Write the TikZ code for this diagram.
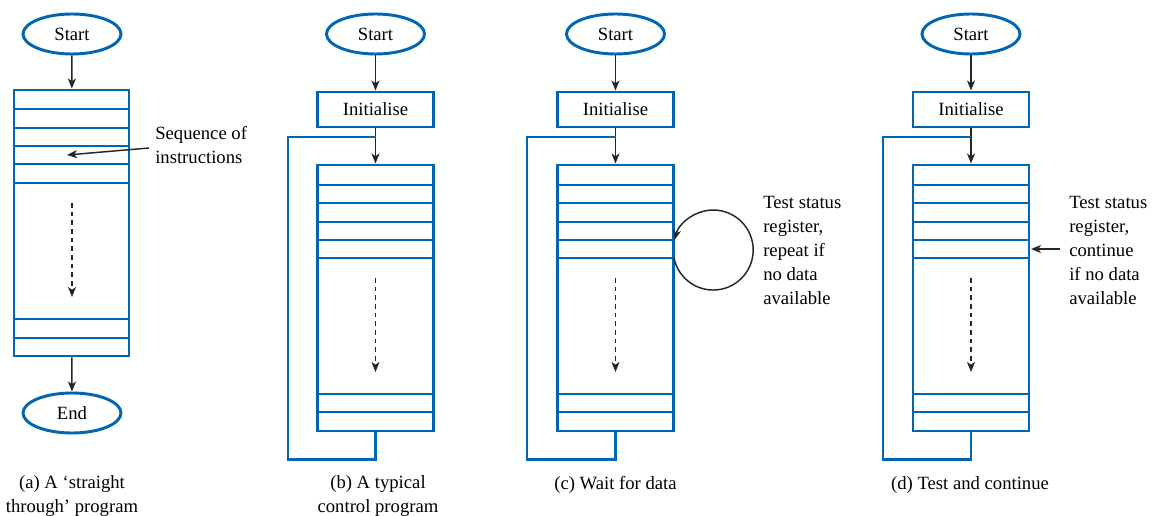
\documentclass[tikz,border=0pt]{standalone}
\usepackage{fontspec}
\setmainfont{Liberation Serif}
\usetikzlibrary{arrows.meta,shapes.geometric}
\definecolor{flowblue}{RGB}{0,102,179}
\begin{document}
\begin{tikzpicture}[x=0.75pt,y=-0.75pt,
  every node/.style={font=\fontsize{14}{18}\selectfont, inner sep=0pt},
  term/.style={ellipse, draw=flowblue, line width=2.2pt, minimum width=73.5pt, minimum height=30pt},
  initbox/.style={rectangle, draw=flowblue, line width=2.2pt, minimum width=87pt, minimum height=26.25pt},
  progbox/.style={rectangle, draw=flowblue, line width=2.2pt, minimum width=87pt, minimum height=199.5pt},
  rowline/.style={flowblue, line width=2.2pt},
  loopline/.style={flowblue, line width=2.2pt},
  arr/.style={-{Stealth[length=7.5pt,width=6pt,inset=2pt]}, line width=1.1pt, black!85},
  dasharr/.style={arr, dash pattern=on 3.5pt off 3pt},
  note/.style={align=left, anchor=west},
  caption/.style={align=center, font=\fontsize{14}{17.5}\selectfont}
]
\useasboundingbox (0,0) rectangle (1157,516);

% ---------- (a) ----------
\node[term] (astart) at (72,34) {Start};
\node[progbox, minimum width=86.25pt] (abox) at (71.5,223) {};
\node[term] (aend) at (72,413) {End};
\foreach \y in {109,128,146,164,183,319,338}
  \draw[rowline] (abox.west |- 0,\y) -- (abox.east |- 0,\y);
\draw[arr] (astart) -- (abox);
\draw[arr] (abox) -- (aend);
\coordinate (ad1) at (72,203);
\coordinate (ad2) at (72,297);
\draw[dasharr] (ad1) -- (ad2);
\node[note] (seq) at (155,145) {Sequence of\\instructions};
\coordinate (aptr) at (67,155);
\draw[arr] ([shift={(-6,3)}]seq.west) -- (aptr);
\node[caption] (acap) at (72,496) {(a) A ‘straight\\through’ program};

% ---------- (b) ----------
\node[term] (bstart) at (375.5,34) {Start};
\node[initbox] (binit) at (375.5,109.5) {Initialise};
\node[progbox] (bbox) at (375.5,298) {};
\foreach \y in {185,203,222,240,258,394,412}
  \draw[rowline] (bbox.west |- 0,\y) -- (bbox.east |- 0,\y);
\draw[arr] (bstart) -- (binit);
\draw[arr] (binit) -- (bbox);
\coordinate (bL) at (288,137);
\draw[loopline] (bbox.south) -- ++(0,27) -| (bL) -- (bL -| binit.south);
\coordinate (bd1) at (375.5,278);
\coordinate (bd2) at (375.5,372);
\draw[dasharr] (bd1) -- (bd2);
\node[caption] (bcap) at (378,496) {(b) A typical\\control program};

% ---------- (c) ----------
\node[term] (cstart) at (615.5,34) {Start};
\node[initbox] (cinit) at (615.5,109.5) {Initialise};
\node[progbox] (cbox) at (615.5,298) {};
\foreach \y in {185,203,222,240,258,394,412}
  \draw[rowline] (cbox.west |- 0,\y) -- (cbox.east |- 0,\y);
\draw[arr] (cstart) -- (cinit);
\draw[arr] (cinit) -- (cbox);
\coordinate (cL) at (527,137);
\draw[loopline] (cbox.south) -- ++(0,27) -| (cL) -- (cL -| cinit.south);
\coordinate (cd1) at (615.5,278);
\coordinate (cd2) at (615.5,372);
\draw[dasharr] (cd1) -- (cd2);
\coordinate (cloop) at (674,258);
\draw[arr] (cloop) arc[start angle=168.5, end angle=-165.5, radius=40];
\node[note] (ctext) at (763,250) {Test status\\register,\\repeat if\\no data\\available};
\node[caption] (ccap) at (615.5,485) {(c) Wait for data};

% ---------- (d) ----------
\node[term] (dstart) at (971,34) {Start};
\node[initbox] (dinit) at (971,109.5) {Initialise};
\node[progbox] (dbox) at (971,298) {};
\foreach \y in {185,203,222,240,258,394,412}
  \draw[rowline] (dbox.west |- 0,\y) -- (dbox.east |- 0,\y);
\draw[arr] (dstart) -- (dinit);
\draw[arr] (dinit) -- (dbox);
\coordinate (dL) at (883,137);
\draw[loopline] (dbox.south) -- ++(0,27) -| (dL) -- (dL -| dinit.south);
\coordinate (dd1) at (971,278);
\coordinate (dd2) at (971,372);
\draw[dasharr] (dd1) -- (dd2);
\node[note] (dtext) at (1069,250) {Test status\\register,\\continue\\if no data\\available};
\coordinate (dptr) at (1031,249);
\draw[arr] ([shift={(-9,-1)}]dtext.west) -- (dptr);
\node[caption] (dcap) at (970,485) {(d) Test and continue};
\end{tikzpicture}
\end{document}
